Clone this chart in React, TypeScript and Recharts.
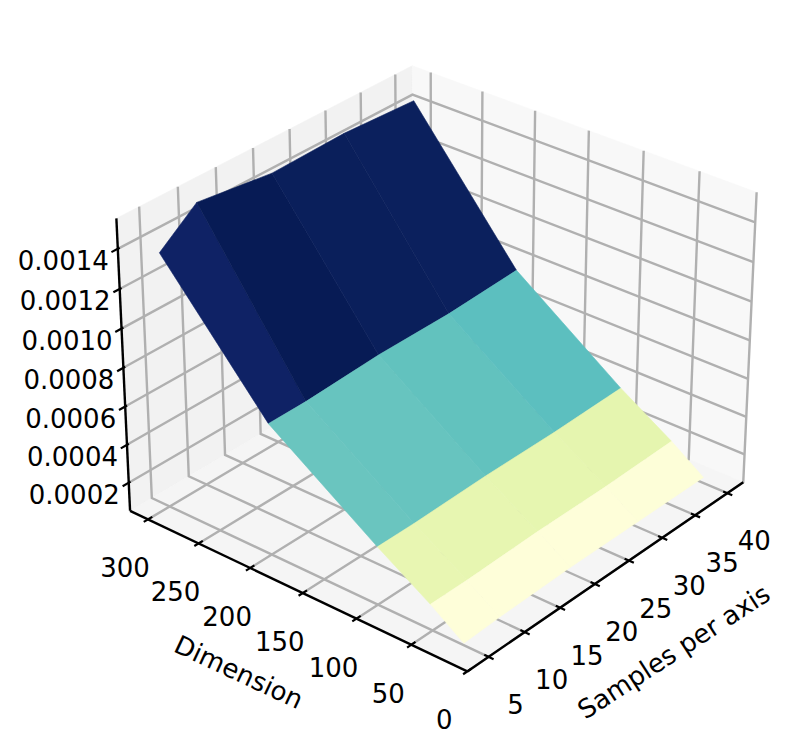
import React from "react";
import { ScatterChart, Scatter, XAxis, YAxis } from "recharts";

const samples = [5, 10, 20, 30, 40];
const dimensions = [22, 52, 100, 200, 300];
// one row per dimension, one value per sample count
const errorRow22 = [0.00006, 0.00007, 0.00008, 0.00008, 0.00008];
const errorRow52 = [0.00018, 0.00018, 0.00019, 0.00019, 0.0002];
const errorRow100 = [0.00035, 0.00035, 0.00036, 0.00036, 0.00037];
const errorRow200 = [0.00073, 0.00073, 0.00075, 0.00075, 0.00077];
const errorRow300 = [0.00136, 0.00151, 0.00146, 0.00147, 0.00145];
const errorRows = [errorRow22, errorRow52, errorRow100, errorRow200, errorRow300];

const sampleTicks = [5, 10, 15, 20, 25, 30, 35, 40];
const dimensionTicks = [0, 50, 100, 150, 200, 250, 300];
const errorTicks = [0.0002, 0.0004, 0.0006, 0.0008, 0.001, 0.0012, 0.0014];

const sampleRange = [2.1, 42.5];
const dimensionRange = [0, 318];
const errorRange = [0.00005, 0.00155];

const facetColors = [
  ["#fefed9", "#fefed9", "#fefed9", "#fdfed8"],
  ["#e8f6b2", "#e7f6b1", "#e6f6b0", "#e5f5af"],
  ["#6ac5bf", "#67c4bf", "#62c2be", "#5cbfbf"],
  ["#0f2265", "#071b55", "#0a1f5b", "#0b205d"],
];

const WIDTH = 792;
const HEIGHT = 755;
const FONT = "DejaVu Sans";

// same camera as a 3D axes at elev 30, azim -140
const elev = (30 * Math.PI) / 180;
const azim = (-140 * Math.PI) / 180;
const cameraDist = 10;
const boxHalf = [0.5715, 0.5715, 0.432];
const pxScale = 389;
const pxCenter = [438.5, 354];

type Pt = { x: number; y: number };

// box coordinates in 0..1 to picture position
function projectBox(u: number, v: number, w: number): Pt {
  const X = (u * 2 - 1) * boxHalf[0];
  const Y = (v * 2 - 1) * boxHalf[1];
  const Z = (w * 2 - 1) * boxHalf[2];
  const depth =
    cameraDist -
    (X * Math.cos(elev) * Math.cos(azim) + Y * Math.cos(elev) * Math.sin(azim) + Z * Math.sin(elev));
  const right = -X * Math.sin(azim) + Y * Math.cos(azim);
  const up =
    -X * Math.sin(elev) * Math.cos(azim) - Y * Math.sin(elev) * Math.sin(azim) + Z * Math.cos(elev);
  const k = cameraDist / depth;
  return { x: pxCenter[0] + pxScale * right * k, y: pxCenter[1] - pxScale * up * k };
}

const uOf = (s: number) => (s - sampleRange[0]) / (sampleRange[1] - sampleRange[0]);
const vOf = (d: number) => (d - dimensionRange[0]) / (dimensionRange[1] - dimensionRange[0]);
const wOf = (e: number) => (e - errorRange[0]) / (errorRange[1] - errorRange[0]);
const point = (s: number, d: number, e: number) => projectBox(uOf(s), vOf(d), wOf(e));

const Polygon = (fill: string, stroke: string) => (props: any) => (
  <polygon
    points={props.points.map((p: Pt) => `${p.x},${p.y}`).join(" ")}
    fill={fill}
    stroke={stroke}
    strokeWidth={0.6}
  />
);

const noDot = () => <g />;

function polygonSeries(key: string, pts: Pt[], fill: string) {
  return (
    <Scatter key={key} data={pts} isAnimationActive={false} shape={noDot} line={Polygon(fill, fill)} />
  );
}

function lineSeries(key: string, pts: Pt[], stroke: string, width: number) {
  return (
    <Scatter
      key={key}
      data={pts}
      isAnimationActive={false}
      shape={noDot}
      line={{ stroke, strokeWidth: width }}
    />
  );
}

function textSeries(
  key: string,
  at: Pt,
  text: string,
  dx: number,
  dy: number,
  anchor: "start" | "middle" | "end" = "middle",
  angle = 0,
) {
  const draw = (props: any) => {
    const x = props.cx + dx;
    const y = props.cy + dy;
    return (
      <text
        x={x}
        y={y}
        textAnchor={anchor}
        dominantBaseline="central"
        fontFamily={FONT}
        fontSize={26}
        fill="#000"
        transform={angle ? `rotate(${angle} ${x} ${y})` : undefined}
      >
        {text}
      </text>
    );
  };
  return <Scatter key={key} data={[at]} isAnimationActive={false} shape={draw} />;
}

const A = projectBox(0, 0, 0);
const B = projectBox(1, 0, 0);
const C = projectBox(0, 1, 0);
const D = projectBox(1, 1, 0);
const E = projectBox(0, 1, 1);
const F = projectBox(1, 1, 1);
const G = projectBox(1, 0, 1);

const GRID = "#b0b0b0";
const GRID_WIDTH = 2.4;

function panes() {
  return [
    polygonSeries("pane-left", [C, E, F, D], "#f2f2f2"),
    polygonSeries("pane-right", [D, F, G, B], "#f8f8f8"),
    polygonSeries("pane-floor", [A, B, D, C], "#f5f5f5"),
  ];
}

function gridLines() {
  const out: React.ReactNode[] = [];
  sampleTicks.forEach((s) => {
    const u = uOf(s);
    out.push(lineSeries(`gs-${s}`, [projectBox(u, 0, 0), projectBox(u, 1, 0), projectBox(u, 1, 1)], GRID, GRID_WIDTH));
  });
  dimensionTicks.forEach((d) => {
    const v = vOf(d);
    out.push(lineSeries(`gd-${d}`, [projectBox(0, v, 0), projectBox(1, v, 0), projectBox(1, v, 1)], GRID, GRID_WIDTH));
  });
  errorTicks.forEach((e) => {
    const w = wOf(e);
    out.push(lineSeries(`ge-${e}`, [projectBox(0, 1, w), projectBox(1, 1, w), projectBox(1, 0, w)], GRID, GRID_WIDTH));
  });
  return out;
}

function axisLines() {
  const out: React.ReactNode[] = [
    lineSeries("axis-samples", [A, B], "#000", 2.4),
    lineSeries("axis-dimension", [A, C], "#000", 2.4),
    lineSeries("axis-error", [C, E], "#000", 2.4),
  ];
  sampleTicks.forEach((s) => {
    const u = uOf(s);
    out.push(lineSeries(`ts-${s}`, [projectBox(u, 0.012, 0), projectBox(u, -0.014, 0)], "#000", 2.2));
    out.push(textSeries(`ls-${s}`, projectBox(u, 0, 0), String(s), 27, 48));
  });
  dimensionTicks.forEach((d) => {
    const v = vOf(d);
    out.push(lineSeries(`td-${d}`, [projectBox(0.014, v, 0), projectBox(-0.014, v, 0)], "#000", 2.2));
    out.push(textSeries(`ld-${d}`, projectBox(0, v, 0), String(d), -23, 49));
  });
  errorTicks.forEach((e) => {
    const w = wOf(e);
    out.push(lineSeries(`te-${e}`, [projectBox(0.006, 1, w), projectBox(-0.02, 1, w)], "#000", 2.2));
    out.push(textSeries(`le-${e}`, projectBox(0, 1, w), e.toFixed(4), -9, 12, "end"));
  });
  out.push(textSeries("title-dim", projectBox(0, vOf(150), 0), "Dimension", -64, 79, "middle", 25));
  out.push(textSeries("title-samples", projectBox(uOf(25), 0, 0), "Samples per axis", 45, 91, "middle", -33));
  return out;
}

function surface() {
  const out: React.ReactNode[] = [];
  for (let r = dimensions.length - 2; r >= 0; r--) {
    for (let c = 0; c < samples.length - 1; c++) {
      out.push(
        polygonSeries(
          `facet-${r}-${c}`,
          [
            point(samples[c], dimensions[r], errorRows[r][c]),
            point(samples[c + 1], dimensions[r], errorRows[r][c + 1]),
            point(samples[c + 1], dimensions[r + 1], errorRows[r + 1][c + 1]),
            point(samples[c], dimensions[r + 1], errorRows[r + 1][c]),
          ],
          facetColors[r][c],
        ),
      );
    }
  }
  return out;
}

export default function App() {
  return (
    <div style={{ position: "absolute", left: 0, top: 0, width: WIDTH, height: HEIGHT, background: "#fff" }}>
      <ScatterChart width={WIDTH} height={HEIGHT} margin={{ top: 0, right: 0, bottom: 0, left: 0 }}>
        <XAxis type="number" dataKey="x" domain={[0, WIDTH]} hide />
        <YAxis type="number" dataKey="y" domain={[0, HEIGHT]} reversed hide />
        {panes()}
        {gridLines()}
        {axisLines()}
        {surface()}
      </ScatterChart>
    </div>
  );
}
